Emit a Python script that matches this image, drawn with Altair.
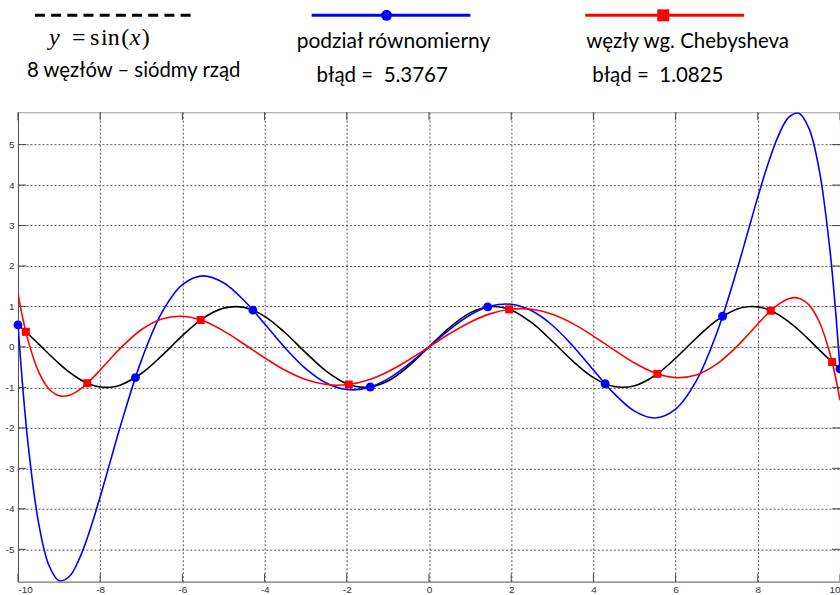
import altair as alt
import pandas as pd

# ---------------- data ----------------
X = [-10, -9.9, -9.75, -9.5, -9.25, -9, -8.75, -8.5, -8.25, -8, -7.75, -7.5, -7,
     -6.5, -6, -5.5, -5, -4.5, -4, -3.5, -3, -2.5, -2, -1.5, -1, -0.5, 0,
     0.5, 1, 1.5, 2, 2.5, 3, 3.5, 4, 4.5, 5, 5.5, 6, 6.5, 7, 7.5, 7.75, 8,
     8.25, 8.5, 8.75, 9, 9.25, 9.5, 9.75, 9.9, 10]

SIN_Y = [0.5440, 0.4575, 0.3195, 0.0752, -0.1739, -0.4121, -0.6247, -0.7985, -0.9226,
         -0.9894, -0.9945, -0.9380, -0.6570, -0.2151, 0.2794, 0.7055, 0.9589, 0.9775,
         0.7568, 0.3508, -0.1411, -0.5985, -0.9093, -0.9975, -0.8415, -0.4794, 0.0,
         0.4794, 0.8415, 0.9975, 0.9093, 0.5985, 0.1411, -0.3508, -0.7568, -0.9775,
         -0.9589, -0.7055, -0.2794, 0.2151, 0.6570, 0.9380, 0.9945, 0.9894, 0.9226,
         0.7985, 0.6247, 0.4121, 0.1739, -0.0752, -0.3195, -0.4575, -0.5440]

EQUI_Y = [0.5440, -0.7976, -2.4420, -4.3430, -5.3891, -5.7763, -5.6719, -5.2165, -4.5275,
          -3.7016, -2.8152, -1.9303, -0.3375, 0.8460, 1.5368, 1.7552, 1.5859, 1.1480,
          0.5710, -0.0239, -0.5357, -0.8922, -1.0534, -1.0115, -0.7885, -0.4303, 0.0,
          0.4303, 0.7885, 1.0115, 1.0534, 0.8922, 0.5357, 0.0239, -0.5710, -1.1480,
          -1.5859, -1.7552, -1.5368, -0.8460, 0.3375, 1.9303, 2.8152, 3.7016, 4.5275,
          5.2165, 5.6719, 5.7763, 5.3891, 4.3430, 2.4420, 0.7976, -0.5440]

CHEB_Y = [1.3188, 0.7912, 0.1431, -0.6100, -1.0329, -1.2050, -1.1932, -1.0538, -0.8330,
          -0.5686, -0.2904, -0.0214, 0.4253, 0.6917, 0.7580, 0.6448, 0.3974, 0.0731,
          -0.2691, -0.5762, -0.8058, -0.9296, -0.9346, -0.8230, -0.6108, -0.3248, 0.0,
          0.3248, 0.6108, 0.8230, 0.9346, 0.9296, 0.8058, 0.5762, 0.2691, -0.0731,
          -0.3974, -0.6448, -0.7580, -0.6917, -0.4253, 0.0214, 0.2904, 0.5686, 0.8330,
          1.0538, 1.1932, 1.2050, 1.0329, 0.6100, -0.1431, -0.7912, -1.3188]

EQUI_NODE_X = [-10, -7.1429, -4.2857, -1.4286, 1.4286, 4.2857, 7.1429, 10]
EQUI_NODE_Y = [0.5440, -0.7576, 0.9103, -0.9899, 0.9899, -0.9103, 0.7576, -0.5440]
CHEB_NODE_X = [-9.8079, -8.3147, -5.5557, -1.9509, 1.9509, 5.5557, 8.3147, 9.8079]
CHEB_NODE_Y = [0.3738, -0.8957, 0.6650, -0.9286, 0.9286, -0.6650, 0.8957, -0.3738]

X_TICKS = [-10, -8, -6, -4, -2, 0, 2, 4, 6, 8, 10]
Y_TICKS = [-5, -4, -3, -2, -1, 0, 1, 2, 3, 4, 5]

TXT_NODES = "8 węzłów – siódmy rząd"
TXT_EQUI = "podział równomierny"
TXT_EQUI_ERR = "błąd =\u00a0 5.3767"
TXT_CHEB = "węzły wg. Chebysheva"
TXT_CHEB_ERR = "błąd =\u00a0 1.0825"

# ---------------- chart ----------------
W, H = 823, 470
SANS = "Lato"

xscale = alt.Scale(domain=[-10, 10], nice=False, zero=False)
yscale = alt.Scale(domain=[-5.8, 5.8], nice=False, zero=False)

ax_x = alt.Axis(values=X_TICKS, grid=True, gridColor="#555555", gridDash=[2, 2], gridWidth=1,
                ticks=False, domainColor="#808080", labelFont="Liberation Sans",
                labelFontSize=10, labelColor="#333333", labelPadding=3,
                labelExpr="'' + datum.value", title=None)
ax_y = alt.Axis(values=Y_TICKS, grid=True, gridColor="#555555", gridDash=[2, 2], gridWidth=1,
                ticks=False, domainColor="#555555", labelFont="Liberation Sans",
                labelFontSize=10, labelColor="#333333", labelPadding=4,
                labelExpr="'' + datum.value", title=None)

curves = pd.DataFrame({"x": X, "sin": SIN_Y, "equi": EQUI_Y, "cheb": CHEB_Y})


def curve(col, color):
    return alt.Chart(curves).mark_line(color=color, strokeWidth=1.6, interpolate="catmull-rom",
                                       clip=True).encode(
        x=alt.X("x:Q", scale=xscale, axis=ax_x),
        y=alt.Y(f"{col}:Q", scale=yscale, axis=ax_y),
    )


equi_nodes = pd.DataFrame({"x": EQUI_NODE_X, "y": EQUI_NODE_Y})
cheb_nodes = pd.DataFrame({"x": CHEB_NODE_X, "y": CHEB_NODE_Y})

equi_pts = alt.Chart(equi_nodes).mark_point(filled=True, shape="circle", size=80, color="#0000ff",
                                             opacity=1).encode(
    x=alt.X("x:Q", scale=xscale, axis=ax_x), y=alt.Y("y:Q", scale=yscale, axis=ax_y))
cheb_pts = alt.Chart(cheb_nodes).mark_point(filled=True, shape="square", size=64, color="#ff0000",
                                             opacity=1).encode(
    x=alt.X("x:Q", scale=xscale, axis=ax_x), y=alt.Y("y:Q", scale=yscale, axis=ax_y))

xt = pd.DataFrame({"t": X_TICKS})
yt = pd.DataFrame({"t": Y_TICKS})
TICK_C = "#444444"
tick_bottom = alt.Chart(xt).mark_rule(color=TICK_C, strokeWidth=1).encode(
    x=alt.X("t:Q", scale=xscale, axis=ax_x), y=alt.value(H), y2=alt.value(H - 8))
tick_top = alt.Chart(xt).mark_rule(color=TICK_C, strokeWidth=1).encode(
    x=alt.X("t:Q", scale=xscale, axis=ax_x), y=alt.value(0), y2=alt.value(8))
tick_left = alt.Chart(yt).mark_rule(color=TICK_C, strokeWidth=1).encode(
    y=alt.Y("t:Q", scale=yscale, axis=ax_y), x=alt.value(0), x2=alt.value(8))
tick_right = alt.Chart(yt).mark_rule(color=TICK_C, strokeWidth=1).encode(
    y=alt.Y("t:Q", scale=yscale, axis=ax_y), x=alt.value(W), x2=alt.value(W - 8))

# ---------------- legend / annotation (above the plot area) ----------------
one = pd.DataFrame({"k": [0]})


def seg(x1, x2, y, color, width=3, dash=None):
    kw = dict(color=color, strokeWidth=width)
    if dash:
        kw["strokeDash"] = dash
    return alt.Chart(one).mark_rule(**kw).encode(x=alt.value(x1), x2=alt.value(x2), y=alt.value(y))


def txt(s, x, y, size=21, font=SANS, style="normal"):
    return alt.Chart(one).mark_text(text=s, align="left", baseline="alphabetic", font=font,
                                    fontSize=size, fontStyle=style, color="#000000").encode(
        x=alt.value(x), y=alt.value(y))


leg_black = seg(17, 176, -97, "#000000", dash=[10, 6.2])
leg_blue = seg(294, 453, -97, "#0000ff")
leg_red = seg(568, 727, -97, "#ff0000")
leg_blue_pt = alt.Chart(one).mark_point(filled=True, shape="circle", size=120, color="#0000ff",
                                        opacity=1).encode(x=alt.value(369), y=alt.value(-97))
leg_red_pt = alt.Chart(one).mark_point(filled=True, shape="square", size=144, color="#ff0000",
                                       opacity=1).encode(x=alt.value(646), y=alt.value(-97))

SERIF = "Liberation Serif"
EQ_Y = -67
eq = [
    txt("y", 31, EQ_Y, 24, SERIF, "italic"),
    txt("=", 54, EQ_Y, 24, SERIF),
    txt("s", 72, EQ_Y, 24, SERIF),
    txt("i", 83, EQ_Y, 24, SERIF),
    txt("n", 90, EQ_Y, 24, SERIF),
    txt("(", 103.5, EQ_Y, 24, SERIF),
    txt("x", 112, EQ_Y, 24, SERIF, "italic"),
    txt(")", 124, EQ_Y, 24, SERIF),
]

texts = [
    txt(TXT_NODES, 9, -35, 20.3),
    txt(TXT_EQUI, 279, -64),
    txt(TXT_EQUI_ERR, 299, -30, 20.5),
    txt(TXT_CHEB, 569, -64, 20.5),
    txt(TXT_CHEB_ERR, 575, -30, 20.5),
]

chart = alt.layer(
    curve("sin", "#000000"),
    curve("equi", "#0000ff"),
    curve("cheb", "#ff0000"),
    equi_pts, cheb_pts,
    tick_bottom, tick_top, tick_left, tick_right,
    leg_black, leg_blue, leg_red, leg_blue_pt, leg_red_pt,
    *eq, *texts,
).properties(
    width=W, height=H,
    padding={"left": 18, "top": 112, "right": 0, "bottom": 13},
    autosize=alt.AutoSizeParams(type="none"),
    background="#ffffff",
).configure_view(stroke="#a0a0a0", strokeWidth=1)

chart.save("out.html", embed_options={"renderer": "svg", "actions": False})
